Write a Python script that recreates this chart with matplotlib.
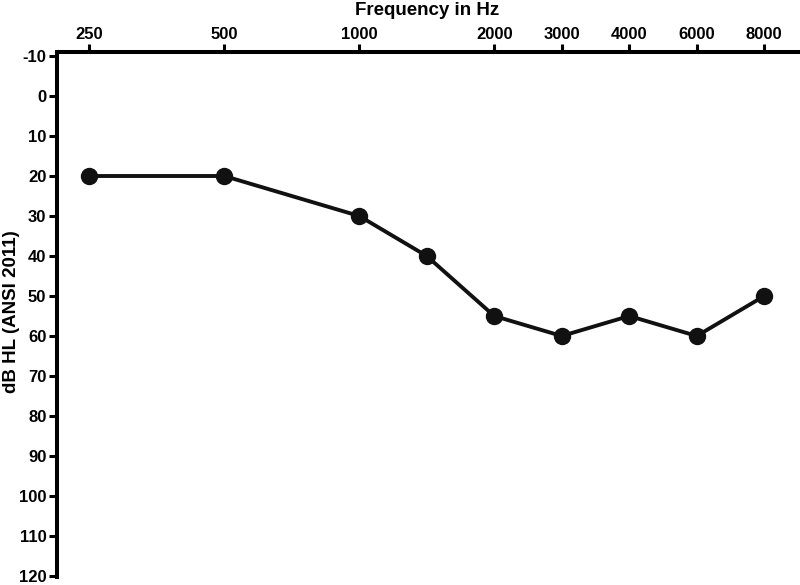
import numpy as np
import matplotlib
matplotlib.use("Agg")
import matplotlib.pyplot as plt

plt.rcParams['font.family'] = ['Liberation Sans', 'DejaVu Sans']
plt.rcParams['font.weight'] = 'bold'

# audiogram data
freqs = [250, 500, 1000, 1500, 2000, 3000, 4000, 6000, 8000]
thresholds = [20, 20, 30, 40, 55, 60, 55, 60, 50]

# audiometric frequency axis (evenly spaced octaves, half-steps above 2k)
tick_freqs = [250, 500, 1000, 2000, 3000, 4000, 6000, 8000]
tick_pos = [0, 1, 2, 3, 3.5, 4, 4.5, 5]
y_ticks = list(range(-10, 121, 10))

# anchors extended by one octave on each side so the axis can pad past the ends
anchor_f = np.array([125] + tick_freqs + [16000], dtype=float)
anchor_p = np.array([-1] + tick_pos + [6], dtype=float)


def forward(f):
    return np.interp(np.asarray(f, dtype=float), anchor_f, anchor_p)


def inverse(p):
    return np.interp(np.asarray(p, dtype=float), anchor_p, anchor_f)


fig = plt.figure(figsize=(8, 5.85), dpi=100)
ax = fig.add_axes([0.071, 0.0137, 0.9265, 0.8974])

ax.set_xscale('function', functions=(forward, inverse))
ax.plot(freqs, thresholds, color='#111111', lw=2.8, marker='o', ms=11.5,
        clip_on=False, zorder=3)

ax.set_xlim(inverse(-0.24), inverse(5.25))
ax.set_ylim(120.25, -11)

ax.set_xticks(tick_freqs)
ax.set_xticklabels([str(f) for f in tick_freqs])
ax.minorticks_off()
ax.set_yticks(y_ticks)
ax.set_yticklabels([str(v) for v in y_ticks])

ax.xaxis.tick_top()
ax.xaxis.set_label_position('top')
ax.set_xlabel('Frequency in Hz', fontsize=13.5, fontweight='bold', labelpad=8)
ax.set_ylabel('dB HL (ANSI 2011)', fontsize=13.5, fontweight='bold')
ax.yaxis.set_label_coords(-0.049, 0.505)

for side in ['right', 'bottom']:
    ax.spines[side].set_visible(False)
for side in ['left', 'top']:
    ax.spines[side].set_linewidth(2.9)
    ax.spines[side].set_color('black')

ax.tick_params(axis='both', length=6, width=2.2, labelsize=12, pad=1.5,
               colors='black')

plt.savefig('out.png', dpi=100)
